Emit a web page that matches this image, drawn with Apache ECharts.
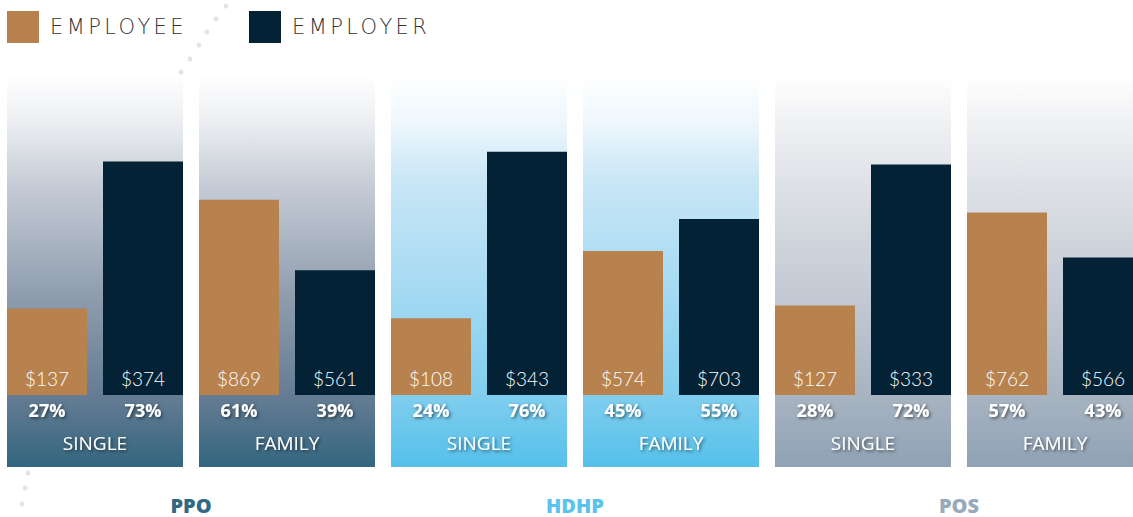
<!DOCTYPE html>
<html>
<head>
<meta charset="utf-8">
<script src="https://cdn.jsdelivr.net/npm/echarts@6/dist/echarts.min.js"></script>
<style>
  html, body { margin: 0; padding: 0; background: #fff; }
  #chart { width: 1133px; height: 517px; }
  /* legend text is spaced out like the original */
  #chart text[style*="DejaVu"] { letter-spacing: 3.4px; }
</style>
</head>
<body>
<div id="chart"></div>
<script>
const groups = ['PPO', 'HDHP', 'POS']
const plans = ['SINGLE', 'FAMILY', 'SINGLE', 'FAMILY', 'SINGLE', 'FAMILY']
const employeePct = [27, 61, 24, 45, 28, 57]
const employerPct = [73, 39, 76, 55, 72, 43]
const employeeCost = [137, 869, 108, 574, 127, 762]
const employerCost = [374, 561, 343, 703, 333, 566]

const employeeColor = '#b8824f'
const employerColor = '#032236'
const groupColors = ['#336882', '#5bc2ec', '#97aabc']

// panel gradients, top to bottom
const panelStops = [
  [['#ffffff', 0], ['#eceef1', 0.12], ['#c8ced8', 0.27], ['#8d9cad', 0.57], ['#647c93', 0.82], ['#33667f', 1]],
  [['#ffffff', 0], ['#eef7fc', 0.12], ['#c8e6f6', 0.27], ['#a2d9f2', 0.57], ['#7fcdee', 0.82], ['#55c0ea', 1]],
  [['#ffffff', 0], ['#f0f1f3', 0.12], ['#dfe2e7', 0.27], ['#c2c9d3', 0.57], ['#a7b3c1', 0.82], ['#8ea2b5', 1]]
]

const panelLeft = 7
const panelWidth = 176
const panelStep = 192

const gradient = (k) => new echarts.graphic.LinearGradient(0, 0, 0, 1,
  panelStops[k].map(([color, offset]) => ({ offset, color })))

const shadow = {
  textShadowColor: 'rgba(0,0,0,0.55)',
  textShadowBlur: 3,
  textShadowOffsetX: 1.5,
  textShadowOffsetY: 1.5
}

const barLabel = (cost, pct) => ({
  show: true,
  position: 'insideBottom',
  distance: 5,
  offset: [0, 36],
  formatter: () => `{d|$${cost}}\n{p|${pct}%}`,
  rich: {
    d: { fontSize: 19, fontFamily: 'Lato', fontWeight: 300, color: '#fff', lineHeight: 32 },
    p: { fontSize: 18, fontFamily: 'Open Sans', fontWeight: 'bold', color: '#fff', lineHeight: 32, ...shadow }
  }
})

const grids = []
const xAxes = []
const yAxes = []
const seriesList = []

plans.forEach((plan, i) => {
  const k = Math.floor(i / 2)
  grids.push({
    left: panelLeft + i * panelStep,
    width: panelWidth,
    top: 75,
    bottom: 50,
    outerBoundsMode: 'none',
    containLabel: false,
    show: true,
    borderWidth: 0,
    backgroundColor: gradient(k)
  })
  xAxes.push({
    type: 'category',
    gridIndex: i,
    data: [plan],
    axisLine: { show: false, onZero: false },
    axisTick: { show: false },
    axisLabel: { margin: -34, color: '#fff', fontSize: 19, fontFamily: 'Open Sans', ...shadow }
  })
  yAxes.push({
    type: 'value',
    gridIndex: i,
    min: -22.5,
    max: 100,
    show: false,
    splitLine: { show: false }
  })
  seriesList.push({
    name: 'EMPLOYEE',
    type: 'bar',
    xAxisIndex: i,
    yAxisIndex: i,
    barWidth: 80,
    barGap: '20%',
    itemStyle: { color: employeeColor },
    label: barLabel(employeeCost[i], employeePct[i]),
    data: [employeePct[i]]
  })
  seriesList.push({
    name: 'EMPLOYER',
    type: 'bar',
    xAxisIndex: i,
    yAxisIndex: i,
    barWidth: 80,
    barGap: '20%',
    itemStyle: { color: employerColor },
    label: barLabel(employerCost[i], employerPct[i]),
    data: [employerPct[i]]
  })
})

const legendBase = {
  top: 11,
  padding: 0,
  icon: 'rect',
  itemWidth: 32,
  itemHeight: 32,
  selectedMode: false,
  textStyle: { fontSize: 21, color: '#333333', fontFamily: 'DejaVu Sans', fontWeight: 200, padding: [0, 0, 0, 6] }
}

// decorative dotted trails
const dots = [[226, 6], [216, 19], [207, 32], [199, 45], [190, 59], [181, 72], [28, 473], [25, 488], [22, 504]]

const chart = echarts.init(document.getElementById('chart'), null, { renderer: 'svg' })
chart.setOption({
  animation: false,
  backgroundColor: '#fff',
  legend: [
    { ...legendBase, left: 7, data: ['EMPLOYEE'] },
    { ...legendBase, left: 249, data: ['EMPLOYER'] }
  ],
  title: groups.map((g, k) => ({
    text: g,
    left: panelLeft + k * panelStep * 2 + panelStep - 8,
    top: 495,
    textAlign: 'center',
    padding: 0,
    textStyle: { fontSize: 20, lineHeight: 20, fontWeight: 800, fontFamily: 'Open Sans', color: groupColors[k] }
  })),
  graphic: dots.map(([x, y]) => ({
    type: 'circle',
    z: -1,
    shape: { cx: x, cy: y, r: 2.5 },
    style: { fill: '#e3e4ea' }
  })),
  grid: grids,
  xAxis: xAxes,
  yAxis: yAxes,
  series: seriesList
})
</script>
</body>
</html>
